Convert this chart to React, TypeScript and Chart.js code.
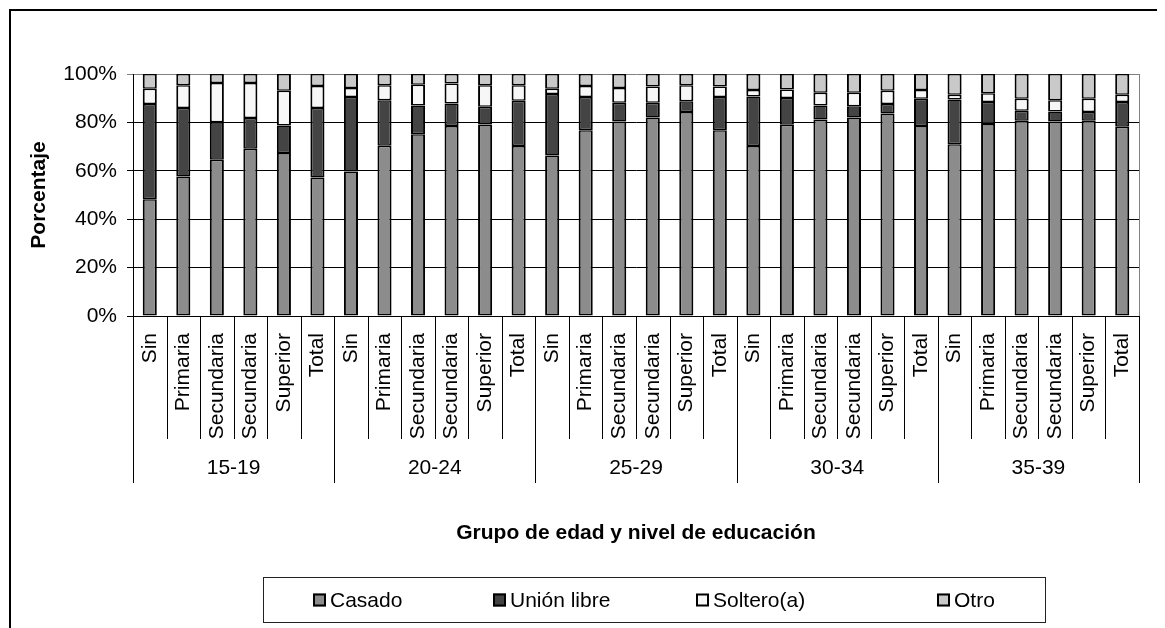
import React, { useEffect, useRef } from "react";
import { Chart, registerables } from "chart.js";

Chart.register(...registerables);

const groups = ["15-19", "20-24", "25-29", "30-34", "35-39"];
const levels = ["Sin", "Primaria", "Secundaria", "Secundaria", "Superior", "Total"];
const seriesNames = ["Casado", "Unión libre", "Soltero(a)", "Otro"];

const casado = [
  48.2, 57.6, 64.6, 69.1, 67.4, 57.2,
  59.7, 70.4, 75.1, 78.5, 79.1, 70.2,
  66.3, 76.8, 80.4, 82.0, 84.3, 76.8,
  70.2, 79.0, 81.2, 82.0, 83.7, 78.5,
  71.0, 79.3, 80.7, 80.4, 80.7, 78.2,
];
const unionLibre = [
  39.4, 28.3, 15.5, 12.7, 11.3, 28.7,
  30.8, 18.8, 11.9, 9.3, 7.4, 18.7,
  25.4, 13.7, 7.7, 6.1, 4.4, 13.7,
  20.5, 11.1, 5.8, 4.7, 3.9, 11.3,
  18.5, 9.1, 4.1, 4.1, 3.6, 10.2,
];
const soltero = [
  6.3, 9.4, 16.2, 14.5, 14.4, 9.1,
  3.7, 6.1, 8.6, 8.3, 8.8, 6.4,
  2.2, 4.5, 6.1, 6.7, 6.6, 4.3,
  2.7, 3.5, 5.3, 5.6, 5.5, 3.6,
  1.9, 3.6, 5.0, 4.7, 5.5, 3.0,
];
const otro = [
  6.1, 4.7, 3.7, 3.7, 6.9, 5.0,
  5.8, 4.7, 4.4, 3.9, 4.7, 4.7,
  6.1, 5.0, 5.8, 5.2, 4.7, 5.2,
  6.6, 6.4, 7.7, 7.7, 6.9, 6.6,
  8.6, 8.0, 10.2, 10.8, 10.2, 8.6,
];
const yTicks = [0, 20, 40, 60, 80, 100];

const labels = groups.flatMap(() => levels);
const seriesValues = [casado, unionLibre, soltero, otro];
const colors = ["#8c8c8c", "#444444", "#f7f7f7", "#c9c9c9"];

const FONT = "'Liberation Sans', Arial, sans-serif";
const W = 1157;
const H = 620;

const decorPlugin = {
  id: "decor",
  afterDraw(chart: any) {
    const { ctx, chartArea: ca, scales } = chart;
    const x = scales.x;
    const n = labels.length;
    const step = x.getPixelForValue(1) - x.getPixelForValue(0);
    ctx.save();
    // plot right border
    ctx.strokeStyle = "#808080";
    ctx.lineWidth = 1;
    ctx.beginPath();
    ctx.moveTo(Math.round(ca.right) + 0.5, ca.top);
    ctx.lineTo(Math.round(ca.right) + 0.5, ca.bottom);
    ctx.stroke();
    // category separators
    ctx.strokeStyle = "#000";
    for (let i = 0; i <= n; i++) {
      const px = Math.round(x.getPixelForValue(0) - step / 2 + i * step) + 0.5;
      const isGroup = i % levels.length === 0;
      const len = isGroup ? 167 : 123;
      ctx.beginPath();
      ctx.moveTo(px, ca.bottom);
      ctx.lineTo(px, ca.bottom + len);
      ctx.stroke();
    }
    // group labels
    ctx.fillStyle = "#000";
    ctx.font = `21px ${FONT}`;
    ctx.textAlign = "center";
    ctx.textBaseline = "middle";
    groups.forEach((g, gi) => {
      const c =
        (x.getPixelForValue(gi * levels.length) +
          x.getPixelForValue(gi * levels.length + levels.length - 1)) / 2;
      ctx.fillText(g, c, ca.bottom + 152);
    });
    // outer frame
    ctx.strokeStyle = "#000";
    ctx.lineWidth = 2;
    ctx.strokeRect(2, 2, W + 20, H + 20);
    // legend frame
    ctx.lineWidth = 1;
    ctx.strokeStyle = "#222";
    ctx.strokeRect(255.5, 569.5, 782, 45);
    // legend items
    const boxX = [305, 485, 688, 929];
    const cy = 592;
    ctx.textAlign = "left";
    ctx.textBaseline = "middle";
    ctx.font = `21px ${FONT}`;
    seriesNames.forEach((name, i) => {
      ctx.fillStyle = colors[i];
      ctx.fillRect(boxX[i], cy - 6.5, 13, 13);
      ctx.lineWidth = 2;
      ctx.strokeStyle = "#000";
      ctx.strokeRect(boxX[i] + 1, cy - 5.5, 11, 11);
      ctx.fillStyle = "#000";
      ctx.fillText(name, boxX[i] + 17, cy + 1);
    });
    ctx.restore();
  },
};

export default function App() {
  const ref = useRef<HTMLCanvasElement | null>(null);
  useEffect(() => {
    if (!ref.current) return;
    const chart = new Chart(ref.current, {
      type: "bar",
      data: {
        labels,
        datasets: seriesNames.map((name, i) => ({
          label: name,
          data: seriesValues[i],
          backgroundColor: colors[i],
          borderColor: "#000",
          borderWidth: { top: 1.5, bottom: 1.5, left: 2, right: 2 },
          borderSkipped: false,
          barPercentage: 0.42,
          categoryPercentage: 1,
        })),
      },
      options: {
        responsive: false,
        animation: false,
        events: [],
        layout: { padding: { top: 66, right: 26, left: 0, bottom: 0 } },
        plugins: {
          legend: { display: false },
          tooltip: { enabled: false },
        },
        scales: {
          x: {
            stacked: true,
            offset: true,
            afterFit: (s: any) => {
              s.height = 312;
            },
            grid: { display: false, drawTicks: false },
            border: { display: true, color: "#000", width: 1 },
            ticks: {
              autoSkip: false,
              maxRotation: 90,
              minRotation: 90,
              padding: 17,
              color: "#000",
              font: { family: FONT, size: 21 },
            },
            title: {
              display: true,
              text: "Grupo de edad y nivel de educación",
              color: "#000",
              font: { family: FONT, size: 21, weight: "bold" },
              padding: { top: 0, bottom: 82 },
            },
          },
          y: {
            stacked: true,
            min: 0,
            max: 100,
            afterFit: (s: any) => {
              s.width = 125;
            },
            afterBuildTicks: (s: any) => {
              s.ticks = yTicks.map((v) => ({ value: v }));
            },
            grid: {
              color: (c: any) => (c.tick && c.tick.value === 100 ? "#808080" : "#000"),
              lineWidth: 1,
              drawTicks: true,
              tickLength: 6,
            },
            border: { display: true, color: "#000", width: 1 },
            ticks: {
              padding: 10,
              color: "#000",
              font: { family: FONT, size: 21 },
              callback: (v: any) => `${v}%`,
            },
            title: {
              display: true,
              text: "Porcentaje",
              color: "#000",
              font: { family: FONT, size: 21, weight: "bold" },
              padding: { top: 19, bottom: 0 },
            },
          },
        },
      },
      plugins: [decorPlugin],
    });
    return () => chart.destroy();
  }, []);
  return (
    <div style={{ width: W, height: H }}>
      <canvas ref={ref} width={W} height={H} style={{ display: "block" }} />
    </div>
  );
}
